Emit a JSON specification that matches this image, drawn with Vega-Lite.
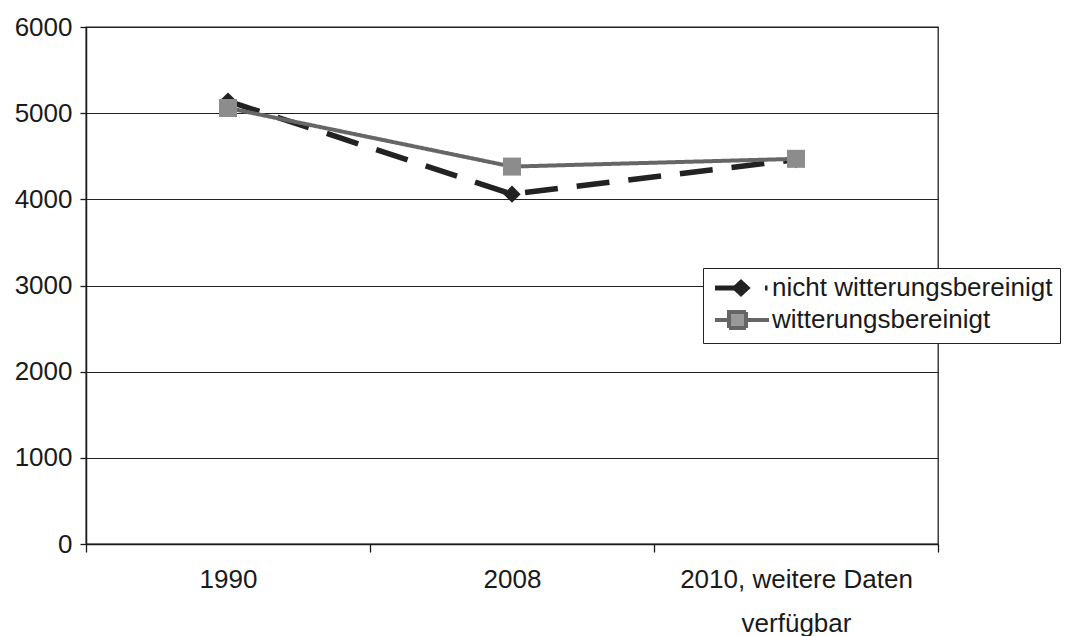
{
  "$schema": "https://vega.github.io/schema/vega-lite/v6.json",
  "autosize": {"type": "none"},
  "width": 852,
  "height": 517,
  "padding": {"left": 86, "top": 27, "right": 130, "bottom": 92},
  "background": "white",
  "config": {
    "font": "Liberation Sans",
    "view": {"stroke": "#222", "strokeWidth": 1.3},
    "axis": {"labelFont": "Liberation Sans", "labelFontSize": 26, "labelColor": "#1a1a1a", "domainColor": "#1a1a1a", "tickColor": "#1a1a1a", "domainWidth": 1.5, "tickWidth": 1.3, "labelLimit": 0}
  },
  "data": {
    "values": [
      {"jahr": "1990", "serie": "nicht witterungsbereinigt", "stil": "nicht", "wert": 5140},
      {"jahr": "2008", "serie": "nicht witterungsbereinigt", "stil": "nicht", "wert": 4060},
      {"jahr": "2010, weitere Daten verfügbar", "serie": "nicht witterungsbereinigt", "stil": "nicht", "wert": 4460},
      {"jahr": "1990", "serie": "witterungsbereinigt", "stil": "witt", "wert": 5060},
      {"jahr": "2008", "serie": "witterungsbereinigt", "stil": "witt", "wert": 4380},
      {"jahr": "2010, weitere Daten verfügbar", "serie": "witterungsbereinigt", "stil": "witt", "wert": 4470}
    ]
  },
  "encoding": {
    "x": {
      "field": "jahr", "type": "nominal", "sort": null,
      "scale": {"paddingInner": 0, "paddingOuter": 0},
      "axis": {
        "title": null, "labelAngle": 0, "tickSize": 8, "labelPadding": 14, "tickBand": "extent",
        "labelLineHeight": 44,
        "labelExpr": "datum.label == '2010, weitere Daten verfügbar' ? ['2010, weitere Daten', 'verfügbar'] : datum.label"
      }
    },
    "y": {
      "field": "wert", "type": "quantitative",
      "scale": {"domain": [0, 6000], "nice": false},
      "axis": {"title": null, "format": "d", "values": [0, 1000, 2000, 3000, 4000, 5000, 6000], "tickSize": 6, "labelPadding": 8, "grid": true, "gridColor": "#222", "gridWidth": 1.2}
    }
  },
  "layer": [
    {
      "mark": {"type": "line"},
      "encoding": {
        "color": {
          "field": "serie", "type": "nominal",
          "scale": {"domain": ["nicht witterungsbereinigt", "witterungsbereinigt"], "range": ["#222222", "#666666"]},
          "legend": {
            "orient": "none", "legendX": 617, "legendY": 241, "title": null,
            "strokeColor": "#222", "padding": 7, "fillColor": "white",
            "labelFontSize": 26, "labelFont": "Liberation Sans", "labelColor": "#1a1a1a", "labelLimit": 0,
            "symbolSize": 400, "symbolStrokeWidth": 3, "rowPadding": 0, "labelOffset": 36,
            "encode": {
              "symbols": {
                "update": {
                  "shape": {"signal": "datum.value == 'nicht witterungsbereinigt' ? 'M-0.8,0L1.2,0M1.2,0L1.8,-0.55L2.4,0L1.8,0.55Z M4.2,0L4.45,0' : 'M-0.8,0L0.6,0M2.3,0L4.6,0M0.6,-0.8L2.3,-0.8L2.3,0.8L0.6,0.8Z'"},
                  "size": {"value": 400},
                  "fill": {"signal": "datum.value == 'nicht witterungsbereinigt' ? '#222222' : '#999999'"},
                  "stroke": {"signal": "datum.value == 'nicht witterungsbereinigt' ? '#222222' : '#777777'"},
                  "strokeDash": {"value": [1, 0]},
                  "strokeWidth": {"signal": "datum.value == 'nicht witterungsbereinigt' ? 5 : 4"}
                }
              }
            }
          }
        },
        "strokeDash": {
          "field": "stil", "type": "nominal",
          "scale": {"domain": ["nicht", "witt"], "range": [[33, 19], [1, 0]]},
          "legend": null
        },
        "strokeWidth": {
          "field": "stil", "type": "nominal",
          "scale": {"domain": ["nicht", "witt"], "range": [5.5, 4]},
          "legend": null
        }
      }
    },
    {
      "mark": {"type": "point", "filled": true, "opacity": 1},
      "encoding": {
        "shape": {
          "field": "stil", "type": "nominal",
          "scale": {"domain": ["nicht", "witt"], "range": ["diamond", "square"]},
          "legend": null
        },
        "fill": {
          "field": "stil", "type": "nominal",
          "scale": {"domain": ["nicht", "witt"], "range": ["#222222", "#8c8c8c"]},
          "legend": null
        },
        "size": {
          "field": "stil", "type": "nominal",
          "scale": {"domain": ["nicht", "witt"], "range": [300, 324]},
          "legend": null
        }
      }
    }
  ]
}
